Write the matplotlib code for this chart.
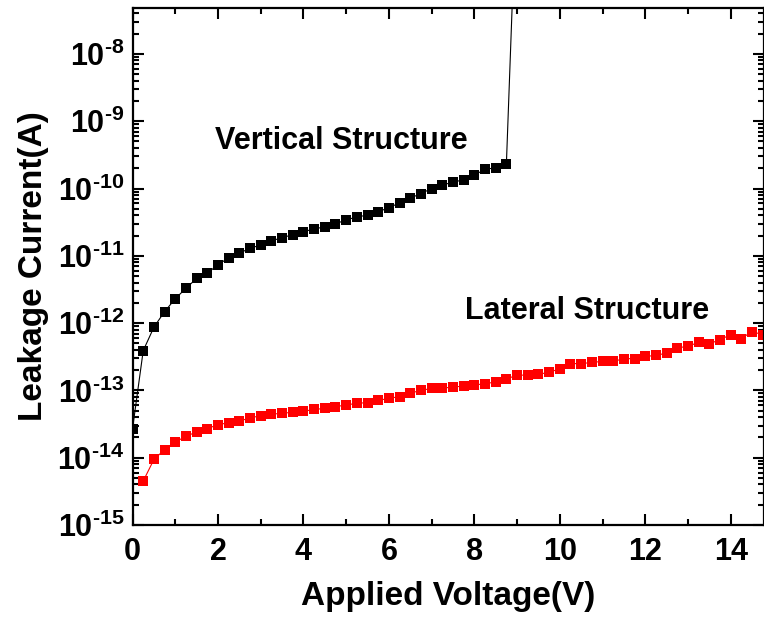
import matplotlib
matplotlib.use("Agg")
import matplotlib.pyplot as plt
import matplotlib.ticker as ticker

plt.rcParams['font.family'] = 'Liberation Sans'
plt.rcParams['font.weight'] = 'bold'
plt.rcParams['mathtext.fontset'] = 'custom'
plt.rcParams['mathtext.rm'] = 'Liberation Sans:bold'
plt.rcParams['mathtext.bf'] = 'Liberation Sans:bold'
plt.rcParams['mathtext.default'] = 'bf'

# vertical structure (black), last point is the breakdown far off the top
v_volt = [0.0, 0.25, 0.5, 0.75, 1.0, 1.25, 1.5, 1.75, 2.0, 2.25, 2.5, 2.75,
          3.0, 3.25, 3.5, 3.75, 4.0, 4.25, 4.5, 4.75, 5.0, 5.25, 5.5, 5.75,
          6.0, 6.25, 6.5, 6.75, 7.0, 7.25, 7.5, 7.75, 8.0, 8.25, 8.5, 8.75, 9.0]
v_curr = [2.7e-14, 3.9e-13, 8.7e-13, 1.48e-12, 2.3e-12, 3.3e-12, 4.6e-12, 5.5e-12,
          7.4e-12, 9.3e-12, 1.1e-11, 1.29e-11, 1.45e-11, 1.66e-11, 1.87e-11, 2.05e-11,
          2.29e-11, 2.5e-11, 2.7e-11, 3.0e-11, 3.4e-11, 3.8e-11, 4.0e-11, 4.5e-11,
          5.2e-11, 6.1e-11, 7.2e-11, 8.4e-11, 1.0e-10, 1.12e-10, 1.25e-10, 1.34e-10,
          1.59e-10, 1.92e-10, 2.04e-10, 2.3e-10, 5e-6]

# lateral structure (red)
l_volt = [0.25, 0.5, 0.75, 1.0, 1.25, 1.5, 1.75, 2.0, 2.25, 2.5, 2.75, 3.0,
          3.25, 3.5, 3.75, 4.0, 4.25, 4.5, 4.75, 5.0, 5.25, 5.5, 5.75, 6.0,
          6.25, 6.5, 6.75, 7.0, 7.25, 7.5, 7.75, 8.0, 8.25, 8.5, 8.75, 9.0,
          9.25, 9.5, 9.75, 10.0, 10.25, 10.5, 10.75, 11.0, 11.25, 11.5, 11.75, 12.0,
          12.25, 12.5, 12.75, 13.0, 13.25, 13.5, 13.75, 14.0, 14.25, 14.5, 14.75]
l_curr = [4.5e-15, 9.4e-15, 1.32e-14, 1.7e-14, 2.09e-14, 2.4e-14, 2.7e-14, 3.1e-14,
          3.3e-14, 3.5e-14, 3.9e-14, 4.2e-14, 4.4e-14, 4.6e-14, 4.7e-14, 4.9e-14,
          5.2e-14, 5.4e-14, 5.7e-14, 6.1e-14, 6.4e-14, 6.6e-14, 7.1e-14, 7.6e-14,
          8.1e-14, 9.1e-14, 1.0e-13, 1.07e-13, 1.08e-13, 1.12e-13, 1.16e-13, 1.2e-13,
          1.26e-13, 1.33e-13, 1.49e-13, 1.67e-13, 1.7e-13, 1.74e-13, 1.85e-13, 2.1e-13,
          2.5e-13, 2.5e-13, 2.6e-13, 2.7e-13, 2.7e-13, 2.95e-13, 2.97e-13, 3.2e-13,
          3.3e-13, 3.6e-13, 4.3e-13, 4.5e-13, 5.2e-13, 4.9e-13, 5.7e-13, 6.7e-13,
          5.9e-13, 7.5e-13, 6.7e-13]

x_ticks = [0, 2, 4, 6, 8, 10, 12, 14]
y_exps = [-15, -14, -13, -12, -11, -10, -9, -8]

fig = plt.figure(figsize=(7.64, 6.22), dpi=100)
ax = fig.add_axes([0.1735, 0.156, 0.8265, 0.831])

ax.plot(v_volt, v_curr, color='black', lw=0.8, marker='s', ms=7.2, mew=0)
ax.plot(l_volt, l_curr, color='#ff0000', lw=0.8, marker='s', ms=7.2, mew=0)

ax.set_yscale('log')
ax.set_xlim(0, 14.78)
ax.set_ylim(1e-15, 4.8e-8)

ax.set_xticks(x_ticks)
ax.xaxis.set_minor_locator(ticker.MultipleLocator(1))
ax.set_yticks([10.0 ** e for e in y_exps])
# hyphen-style minus in the exponent like the original
ax.set_yticklabels([r'$\mathbf{10^{\text{-%d}}}$' % -e for e in y_exps])
ax.yaxis.set_minor_locator(ticker.LogLocator(base=10, subs=range(2, 10), numticks=20))
ax.yaxis.set_minor_formatter(ticker.NullFormatter())

ax.tick_params(which='both', direction='in', top=True, right=True, width=1.5)
ax.tick_params(which='major', length=8)
ax.tick_params(which='minor', length=4.5)
ax.tick_params(axis='x', which='major', labelsize=22, pad=9)
ax.tick_params(axis='y', which='major', labelsize=22, pad=6)
for lab in ax.get_xticklabels():
    lab.set_fontweight('bold')
for sp in ax.spines.values():
    sp.set_linewidth(1.6)

ax.set_xlabel('Applied Voltage(V)', fontsize=24, fontweight='bold', labelpad=10)
ax.set_ylabel('Leakage Current(A)', fontsize=24, fontweight='bold', labelpad=6)

ax.text(4.88, 5.1e-10, 'Vertical Structure', fontsize=22, fontweight='bold',
        ha='center', va='center')
ax.text(10.64, 1.5e-12, 'Lateral Structure', fontsize=22, fontweight='bold',
        ha='center', va='center')

fig.savefig('out.png', dpi=100)
